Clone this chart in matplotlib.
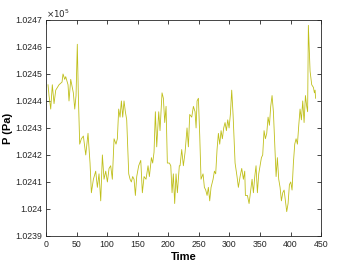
import numpy as np
import matplotlib
matplotlib.use("Agg")
import matplotlib.pyplot as plt
from matplotlib.ticker import FuncFormatter

# pressure trace (time, P in units of 1e5 Pa)
time = [3.3, 4.9, 7.7, 10.3, 13.1, 15.9, 21.3, 26.2, 27.8, 30.6, 32.2, 36.0, 37.6, 40.4,
        44.7, 47.0, 49.1, 51.2, 52.9, 55.1, 57.8, 61.1, 65.0, 68.7, 72.0, 74.2, 77.5, 81.3,
        84.0, 86.7, 89.5, 92.2, 94.9, 97.7, 100.4, 103.1, 105.8, 108.5, 111.3, 114.5, 116.7,
        118.9, 121.1, 123.3, 125.5, 127.6, 129.8, 132.0, 135.3, 137.5, 139.6, 141.8, 144.0,
        146.2, 148.4, 151.6, 155.0, 157.6, 160.4, 163.6, 166.9, 169.1, 172.4, 174.5, 176.7,
        178.9, 181.1, 184.4, 186.5, 189.8, 192.0, 194.2, 196.4, 198.5, 201.8, 204.1, 206.2,
        208.3, 210.5, 212.7, 214.9, 218.1, 219.3, 222.0, 224.7, 227.5, 230.7, 232.9, 235.1,
        238.4, 241.1, 243.8, 245.5, 247.1, 249.3, 251.5, 253.6, 256.9, 259.1, 261.3, 263.5,
        265.6, 267.8, 270.0, 273.3, 275.5, 277.6, 279.8, 282.0, 284.2, 286.4, 288.5, 290.7,
        292.9, 295.1, 297.3, 299.5, 301.6, 303.8, 306.0, 309.3, 312.5, 314.7, 317.5, 320.2,
        322.9, 325.1, 326.2, 329.5, 332.2, 334.9, 337.1, 339.3, 341.5, 343.6, 345.8, 348.0,
        350.2, 352.4, 354.5, 356.7, 358.9, 361.1, 363.3, 365.5, 367.6, 369.8, 372.0, 374.2,
        376.4, 378.5, 380.7, 382.9, 385.1, 387.3, 389.5, 391.6, 393.8, 396.0, 398.2, 400.4,
        402.5, 404.7, 406.9, 409.1, 411.3, 413.5, 415.6, 417.8, 420.0, 422.2, 424.4, 426.5,
        428.0, 429.2, 430.9, 432.0, 433.1, 434.7, 437.5, 439.1, 440.2, 441.0]
pressure = [1.02446, 1.02442, 1.02437, 1.02446, 1.02439, 1.02444, 1.02446, 1.02447, 1.02450,
            1.02448, 1.02449, 1.02446, 1.02440, 1.02448, 1.02443, 1.02437, 1.02442, 1.02461,
            1.02442, 1.02424, 1.02426, 1.02427, 1.02420, 1.02428, 1.02417, 1.02406, 1.02411,
            1.02414, 1.02408, 1.02413, 1.02403, 1.02420, 1.02411, 1.02414, 1.02410, 1.02415,
            1.02416, 1.02411, 1.02426, 1.02424, 1.02426, 1.02437, 1.02434, 1.02440, 1.02434,
            1.02440, 1.02436, 1.02433, 1.02413, 1.02411, 1.02410, 1.02412, 1.02411, 1.02405,
            1.02412, 1.02416, 1.02418, 1.02406, 1.02412, 1.02411, 1.02416, 1.02412, 1.02419,
            1.02417, 1.02421, 1.02436, 1.02423, 1.02436, 1.02429, 1.02443, 1.02441, 1.02432,
            1.02438, 1.02417, 1.02417, 1.02416, 1.02406, 1.02413, 1.02402, 1.02413, 1.02406,
            1.02416, 1.02416, 1.02422, 1.02416, 1.02421, 1.02430, 1.02423, 1.02435, 1.02434,
            1.02438, 1.02436, 1.02430, 1.02440, 1.02441, 1.02427, 1.02411, 1.02413, 1.02408,
            1.02407, 1.02405, 1.02408, 1.02403, 1.02408, 1.02411, 1.02414, 1.02413, 1.02422,
            1.02428, 1.02424, 1.02429, 1.02426, 1.02430, 1.02432, 1.02429, 1.02433, 1.02430,
            1.02435, 1.02444, 1.02435, 1.02417, 1.02412, 1.02408, 1.02412, 1.02415, 1.02411,
            1.02414, 1.02405, 1.02405, 1.02402, 1.02407, 1.02411, 1.02406, 1.02412, 1.02416,
            1.02406, 1.02413, 1.02416, 1.02419, 1.02420, 1.02429, 1.02426, 1.02428, 1.02434,
            1.02431, 1.02438, 1.02442, 1.02436, 1.02424, 1.02412, 1.02419, 1.02411, 1.02408,
            1.02403, 1.02406, 1.02407, 1.02403, 1.02399, 1.02402, 1.02409, 1.02410, 1.02407,
            1.02417, 1.02424, 1.02426, 1.02424, 1.02431, 1.02437, 1.02433, 1.02440, 1.02432,
            1.02442, 1.02438, 1.02436, 1.02468, 1.02457, 1.02451, 1.02449, 1.02446, 1.02445,
            1.02443, 1.02444, 1.02441]

xticks = [0, 50, 100, 150, 200, 250, 300, 350, 400, 450]
yticks = [1.0239, 1.024, 1.0241, 1.0242, 1.0243, 1.0244, 1.0245, 1.0246, 1.0247]

plt.rcParams['font.family'] = ['Liberation Sans', 'DejaVu Sans']

fig = plt.figure(figsize=(3.54, 2.66), dpi=100)
ax = fig.add_axes([0.130, 0.113, 0.777, 0.812])

ax.plot(time, pressure, color='#bfbf1a', linewidth=0.6)

ax.set_xlim(0, 450)
ax.set_ylim(1.0239, 1.0247)
ax.set_xticks(xticks)
ax.set_yticks(yticks)
ax.yaxis.set_major_formatter(FuncFormatter(lambda v, p: '%g' % round(v, 4)))

ax.tick_params(direction='in', length=3, width=0.6, labelsize=6.3, colors='#262626',
               top=True, right=True, pad=3)
for s in ax.spines.values():
    s.set_linewidth(0.6)
    s.set_color('#262626')

ax.set_xlabel('Time', fontsize=8, fontweight='bold', labelpad=2)
ax.set_ylabel('P (Pa)', fontsize=8, fontweight='bold')
ax.yaxis.set_label_coords(-0.12, 0.5)
ax.text(0, 1.0, r'$\times10^5$', transform=ax.transAxes, fontsize=6.3,
        color='#262626', ha='left', va='bottom')

fig.savefig('out.png', dpi=100)
